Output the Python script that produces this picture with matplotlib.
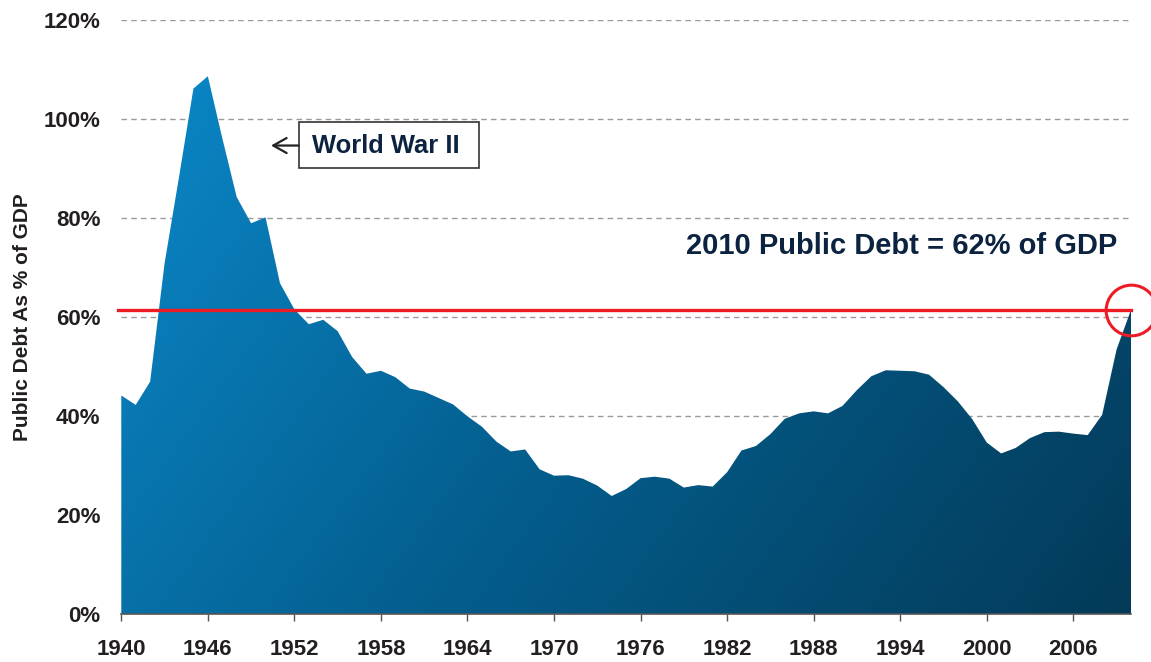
import numpy as np
import matplotlib
matplotlib.use("Agg")
import matplotlib.pyplot as plt
from matplotlib.colors import LinearSegmentedColormap
from matplotlib.patches import Rectangle, FancyArrowPatch

plt.rcParams['font.family'] = ['Liberation Sans', 'DejaVu Sans']

# ---- data ----
years = list(range(1940, 2011))
debt_pct = [44.2, 42.3, 47.0, 70.9, 88.3, 106.2, 108.7, 96.2, 84.3, 79.0,
            80.2, 66.9, 61.6, 58.6, 59.5, 57.2, 52.0, 48.6, 49.2, 47.9,
            45.6, 45.0, 43.7, 42.4, 40.0, 37.9, 34.9, 32.9, 33.3, 29.3,
            28.0, 28.1, 27.4, 26.0, 23.9, 25.3, 27.5, 27.8, 27.4, 25.6,
            26.1, 25.8, 28.7, 33.1, 34.0, 36.4, 39.5, 40.6, 41.0, 40.6,
            42.1, 45.3, 48.1, 49.3, 49.2, 49.1, 48.4, 45.9, 43.0, 39.4,
            34.7, 32.5, 33.6, 35.6, 36.8, 36.9, 36.5, 36.2, 40.3, 53.5,
            61.5]
xtick_years = list(range(1940, 2007, 6))
ytick_vals = [0, 20, 40, 60, 80, 100, 120]
debt_2010_level = 61.5
y_label = "Public Debt As % of GDP"
headline = "2010 Public Debt = 62% of GDP"
callout = "World War II"

fig = plt.figure(figsize=(11.51, 6.62), dpi=100)
ax = fig.add_axes([121.3 / 1151, (662 - 614.3) / 662,
                   (1131 - 121.3) / 1151, (614.3 - 20.3) / 662])

# gradient fill clipped to the area
nx, ny = 300, 300
X, Y = np.meshgrid(np.linspace(0, 1, nx), np.linspace(0, 1, ny))
T = 0.7 * X + 0.3 * Y
cmap = LinearSegmentedColormap.from_list('g', ['#0B8BCD', '#045E8E', '#033A58'])
im = ax.imshow(T, cmap=cmap, vmin=0, vmax=1, extent=[0, 1, 0, 1],
               transform=ax.transAxes, origin='upper', aspect='auto',
               zorder=2, interpolation='bilinear')
poly = ax.fill_between(years, 0, debt_pct, facecolor='none',
                       edgecolor='none', zorder=2)
im.set_clip_path(poly.get_paths()[0], transform=ax.transData)

ax.set_xlim(1940, 2010)
ax.set_ylim(0, 120)

# grid
ax.set_yticks(ytick_vals)
ax.set_yticklabels([f"{v}%" for v in ytick_vals])
ax.yaxis.grid(True, color='#9a9a9a', linestyle=(0, (4, 3)), linewidth=1.0, zorder=0)
ax.set_axisbelow(True)

ax.set_xticks(xtick_years)
ax.set_xticklabels([str(y) for y in xtick_years])

for s in ['left', 'top', 'right']:
    ax.spines[s].set_visible(False)
ax.spines['bottom'].set_color('#555555')
ax.spines['bottom'].set_linewidth(1.2)
ax.spines['bottom'].set_zorder(3)

ax.tick_params(axis='x', direction='out', length=5, width=1, color='#555555',
               pad=13, labelsize=16, labelcolor='#231F20')
ax.tick_params(axis='y', length=0, pad=15, labelsize=16, labelcolor='#231F20')
for lab in ax.get_xticklabels() + ax.get_yticklabels():
    lab.set_fontweight('bold')

ax.set_ylabel(y_label, fontsize=15, fontweight='bold', color='#231F20')
ax.yaxis.set_label_coords(-0.0885, 0.5)

# red reference line and circle
ax.axhline(debt_2010_level, xmin=-0.003, xmax=1, color='#ED1C24', linewidth=2.4,
           zorder=4, clip_on=False)
ax.plot([years[-1]], [debt_2010_level], marker='o', markersize=36.5,
        markerfacecolor='none', markeredgecolor='#ED1C24', markeredgewidth=2.2,
        zorder=5, clip_on=False)

# headline
ax.text(2009.05, 72.7, headline, ha='right', va='baseline', fontsize=21,
        fontweight='bold', color='#0C2340', zorder=6)

# World War II callout
ax.add_patch(Rectangle((1952.3, 90.2), 12.5, 9.3, facecolor='white',
                       edgecolor='#333333', linewidth=1.2, zorder=6))
ax.text(1953.25, 93.1, callout, ha='left', va='baseline', fontsize=18.4,
        fontweight='bold', color='#0C2340', zorder=7)
arr = FancyArrowPatch((1952.3, 94.7), (1950.38, 94.7),
                      arrowstyle='->,head_length=0.8,head_width=0.45',
                      mutation_scale=12, color='#222222', linewidth=1.6,
                      shrinkA=0, shrinkB=0, zorder=7)
ax.add_patch(arr)

fig.savefig('out.png', dpi=100)
